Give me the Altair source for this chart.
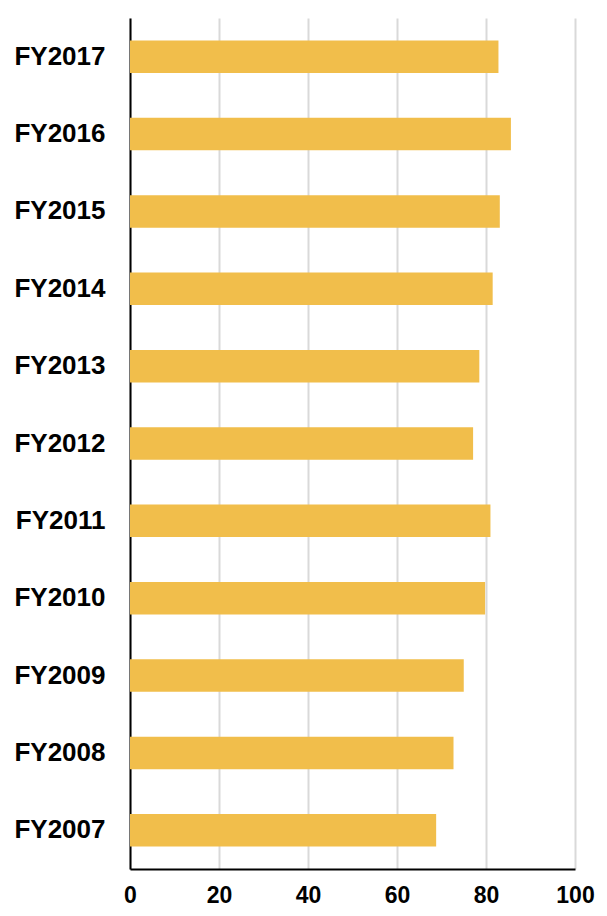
import altair as alt
import pandas as pd

years = ["FY2017", "FY2016", "FY2015", "FY2014", "FY2013", "FY2012",
         "FY2011", "FY2010", "FY2009", "FY2008", "FY2007"]
values = [82.8, 85.6, 83.1, 81.5, 78.5, 77.1, 81.0, 79.8, 75.0, 72.7, 68.8]

df = pd.DataFrame({"year": years, "value": values})

chart = alt.Chart(df).mark_bar(color="#F1BE4B").encode(
    x=alt.X("value:Q",
            scale=alt.Scale(domain=[0, 100], nice=False),
            axis=alt.Axis(title=None, values=[0, 20, 40, 60, 80, 100],
                          ticks=False, domainColor="#000000", domainWidth=2,
                          gridColor="#d9d9d9", gridWidth=2,
                          labelFont="Liberation Sans", labelFontWeight="bold",
                          labelFontSize=23, labelColor="#000000",
                          labelPadding=15, labelFlush=False)),
    y=alt.Y("year:N", sort=years,
            scale=alt.Scale(paddingInner=0.58, paddingOuter=0.29),
            axis=alt.Axis(title=None, ticks=False, grid=False,
                          domainColor="#000000", domainWidth=2,
                          labelFont="Liberation Sans", labelFontWeight="bold",
                          labelFontSize=26, labelColor="#000000",
                          labelPadding=25)),
).properties(
    width=445, height=851,
    autosize=alt.AutoSizeParams(type="none"),
    padding={"left": 122, "top": 10, "right": 20, "bottom": 40},
).configure_view(stroke=None)

chart.save("out.html", embed_options={"renderer": "svg", "actions": False})
